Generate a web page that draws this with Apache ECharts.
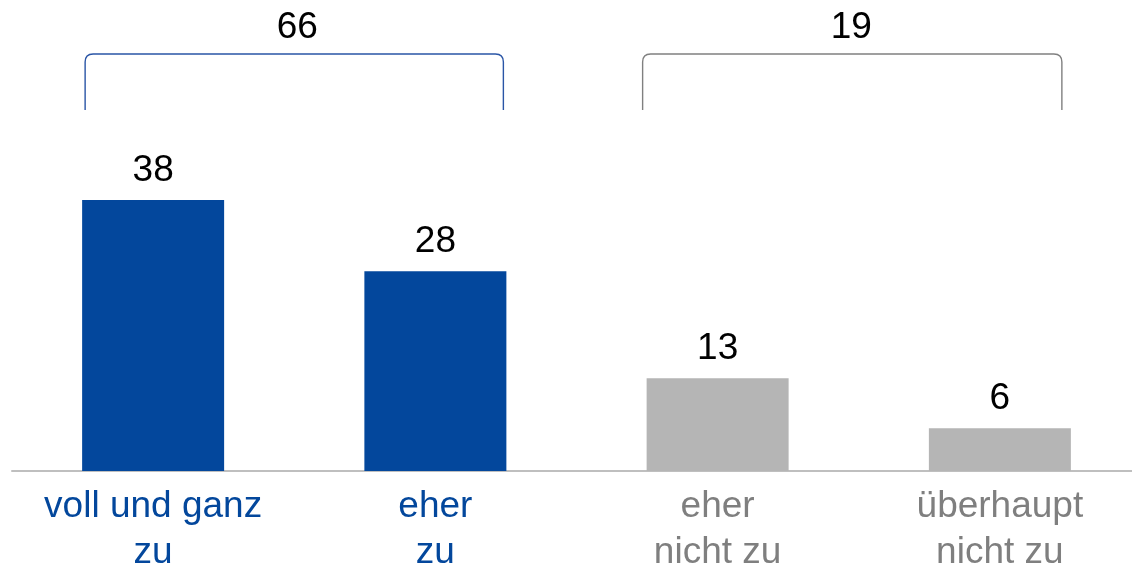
<!DOCTYPE html>
<html>
<head>
<meta charset="utf-8">
<script src="https://cdn.jsdelivr.net/npm/echarts@6/dist/echarts.min.js"></script>
<style>
  html, body { margin: 0; padding: 0; background: #fff; }
  #chart { width: 1132px; height: 564px; }
</style>
</head>
<body>
<div id="chart"></div>
<script>
// data
var categories = ['voll und ganz\nzu', 'eher\nzu', 'eher\nnicht zu', 'überhaupt\nnicht zu'];
var values = [38, 28, 13, 6];
var barColors = ['#03479C', '#03479C', '#B5B5B5', '#B5B5B5'];
var labelColors = ['#03479C', '#03479C', '#7F7F7F', '#7F7F7F'];

// brackets over groups of bars
var groupStart = [0, 2];
var groupEnd = [1, 3];
var groupTotals = [66, 19];
var groupColors = ['#2A55A6', '#808080'];
// small pixel nudges of each bracket relative to its bars
var bracketInsetL = [3, -4];
var bracketInsetR = [3, 9];
var bracketTextShift = [3, -1];

var FONT = '"Liberation Sans", Arial, sans-serif';

var chart = echarts.init(document.getElementById('chart'));

var barData = values.map(function (v, i) {
	return { value: v, itemStyle: { color: barColors[i] } };
});

var bracketData = groupStart.map(function (s, i) {
	return [s, groupEnd[i], groupTotals[i], i];
});

var option = {
	animation: false,
	grid: { left: 12, width: 1129, top: 43, bottom: 93, outerBoundsMode: 'none', containLabel: false },
	xAxis: {
		type: 'category',
		data: categories,
		axisLine: { lineStyle: { color: '#BFBFBF', width: 2 } },
		axisTick: { show: false },
		axisLabel: {
			fontFamily: FONT,
			fontSize: 37,
			lineHeight: 46,
			margin: 13,
			interval: 0,
			color: function (val, idx) { return labelColors[idx]; }
		}
	},
	yAxis: {
		type: 'value',
		min: 0,
		max: 60,
		show: false,
		splitLine: { show: false }
	},
	series: [
		{
			type: 'bar',
			data: barData,
			barWidth: 142,
			label: {
				show: true,
				position: 'top',
				distance: 11,
				color: '#000',
				fontFamily: FONT,
				fontSize: 37
			}
		},
		{
			type: 'custom',
			data: bracketData,
			clip: false,
			encode: { x: [0, 1] },
			renderItem: function (params, api) {
				var g = api.value(3);
				var a = api.coord([api.value(0), 0]);
				var b = api.coord([api.value(1), 0]);
				var half = 142 / 2;
				var x1 = a[0] - half + bracketInsetL[g];
				var x2 = b[0] + half - bracketInsetR[g];
				var yt = 54, yb = 110, r = 8;
				var col = groupColors[g];
				var d = 'M' + x1 + ',' + yb + ' L' + x1 + ',' + (yt + r) +
					' Q' + x1 + ',' + yt + ' ' + (x1 + r) + ',' + yt +
					' L' + (x2 - r) + ',' + yt +
					' Q' + x2 + ',' + yt + ' ' + x2 + ',' + (yt + r) +
					' L' + x2 + ',' + yb;
				return {
					type: 'group',
					children: [
						{
							type: 'path',
							shape: { pathData: d },
							style: { fill: null, stroke: col, lineWidth: 1.4 }
						},
						{
							type: 'text',
							style: {
								text: String(api.value(2)),
								x: (x1 + x2) / 2 + bracketTextShift[g],
								y: 28,
								align: 'center',
								verticalAlign: 'middle',
								fill: '#000',
								font: '37px ' + FONT
							}
						}
					]
				};
			}
		}
	]
};

chart.setOption(option);
</script>
</body>
</html>
